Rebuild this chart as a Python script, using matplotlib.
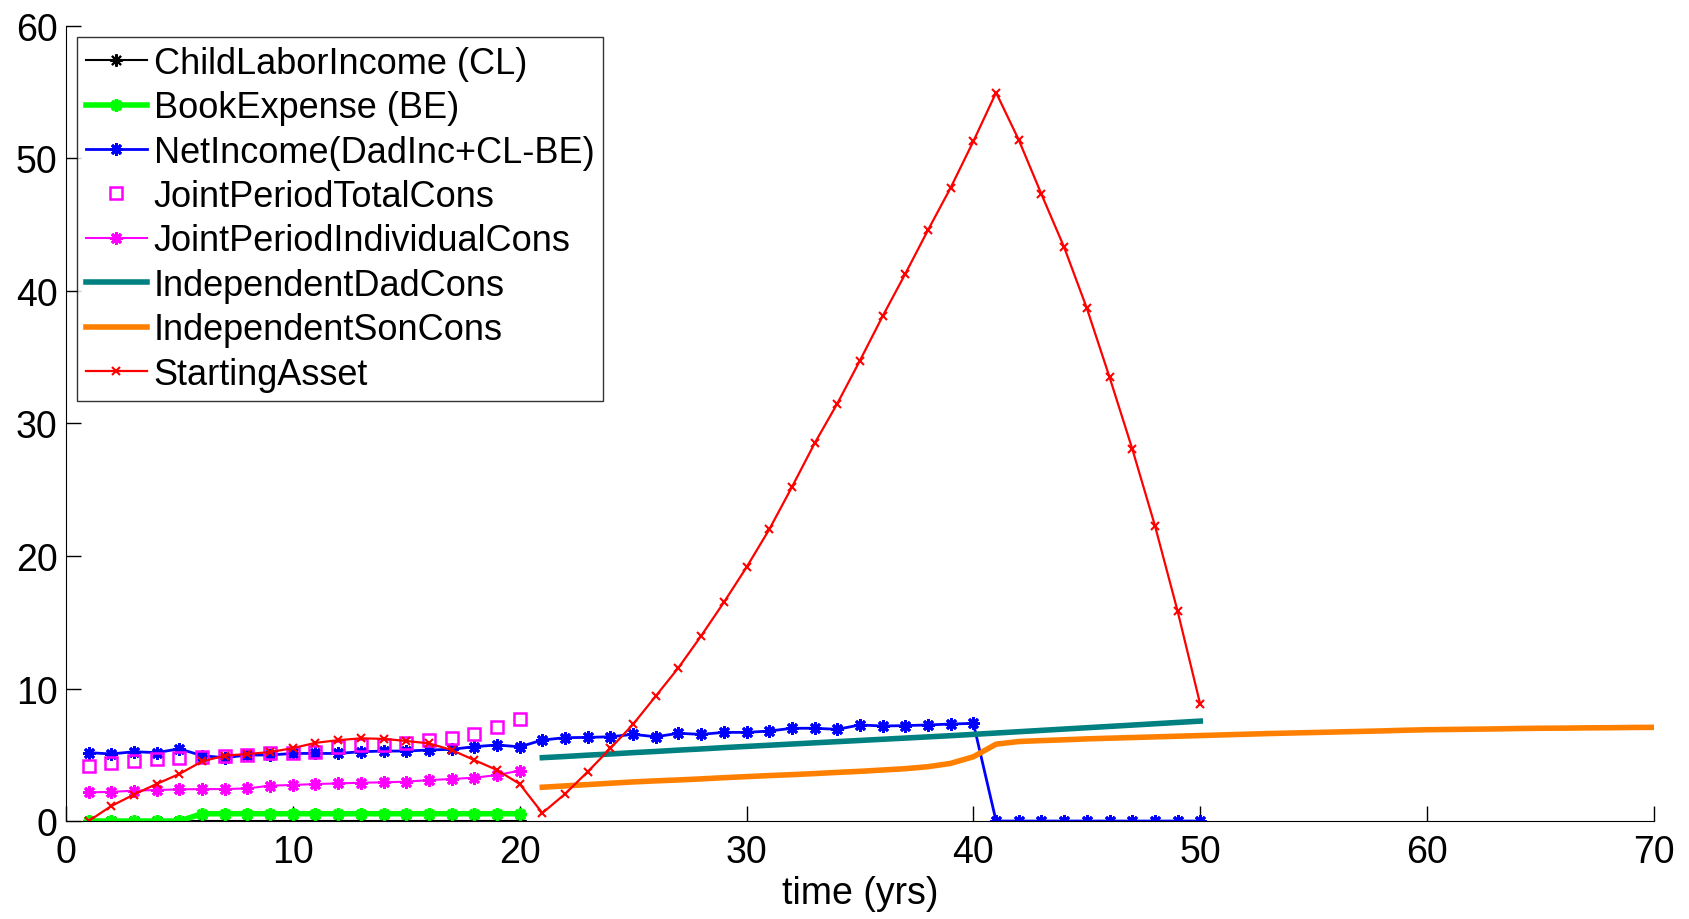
import matplotlib
matplotlib.use("Agg")
import matplotlib.pyplot as plt

plt.rcParams['font.family'] = ['Liberation Sans', 'DejaVu Sans']

# joint period (years 1-20)
t_joint = list(range(1, 21))
child_labor = [0] * 20
book_expense = [0, 0, 0, 0, 0, 0.55, 0.55, 0.55, 0.55, 0.55,
                0.55, 0.55, 0.55, 0.55, 0.55, 0.55, 0.55, 0.55, 0.55, 0.55]
joint_total = [4.15, 4.35, 4.53, 4.65, 4.78, 4.86, 4.93, 4.98, 5.1, 5.16,
               5.23, 5.6, 5.74, 5.74, 5.86, 6.1, 6.29, 6.57, 7.07, 7.7]
joint_indiv = [2.16, 2.2, 2.29, 2.34, 2.39, 2.41, 2.41, 2.46, 2.67, 2.72,
               2.79, 2.84, 2.89, 2.92, 2.97, 3.09, 3.17, 3.27, 3.47, 3.8]

# dad's life (years 1-50)
t_dad = list(range(1, 51))
net_income = [5.16, 5.06, 5.23, 5.16, 5.45, 4.93, 4.78, 4.98, 4.98, 5.1,
              5.1, 5.1, 5.23, 5.28, 5.28, 5.36, 5.41, 5.61, 5.74, 5.6,
              6.11, 6.29, 6.31, 6.36, 6.54, 6.36, 6.62, 6.54, 6.69, 6.69,
              6.79, 7.0, 7.0, 6.92, 7.25, 7.17, 7.2, 7.25, 7.32, 7.37,
              0, 0, 0, 0, 0, 0, 0, 0, 0, 0]
starting_asset = [0, 1.13, 2.0, 2.8, 3.55, 4.5, 4.93, 5.06, 5.2, 5.5,
                  5.9, 6.1, 6.24, 6.2, 6.04, 5.86, 5.36, 4.6, 3.85, 2.8,
                  0.6, 2.04, 3.72, 5.48, 7.3, 9.43, 11.57, 13.97, 16.5, 19.15,
                  22.0, 25.2, 28.5, 31.5, 34.75, 38.1, 41.3, 44.6, 47.8, 51.3,
                  54.97, 51.4, 47.3, 43.3, 38.7, 33.5, 28.1, 22.3, 15.85, 8.8]

# independent period
t_dad_ind = list(range(21, 51))
dad_cons = [4.78, 4.87, 4.97, 5.06, 5.16, 5.25, 5.35, 5.44, 5.54, 5.63,
            5.72, 5.81, 5.9, 5.99, 6.08, 6.17, 6.26, 6.35, 6.44, 6.54,
            6.64, 6.74, 6.84, 6.94, 7.04, 7.14, 7.24, 7.34, 7.44, 7.54]
t_son_ind = list(range(21, 71))
son_cons = [2.55, 2.65, 2.75, 2.85, 2.95, 3.03, 3.1, 3.18, 3.27, 3.35,
            3.43, 3.5, 3.58, 3.67, 3.75, 3.85, 3.95, 4.1, 4.35, 4.85,
            5.8, 6.0, 6.07, 6.13, 6.2, 6.25, 6.3, 6.35, 6.4, 6.45,
            6.5, 6.55, 6.6, 6.64, 6.68, 6.72, 6.76, 6.8, 6.85, 6.89,
            6.91, 6.93, 6.95, 6.98, 7.0, 7.01, 7.03, 7.04, 7.06, 7.07]

star = (8, 2, 0)

fig = plt.figure(figsize=(16.9, 9.2), dpi=100)
ax = fig.add_axes([0.039, 0.1065, 0.9397, 0.8642])

ax.plot(t_joint, child_labor, color='black', lw=1.5, marker=star, ms=9, mew=1.5,
        label='ChildLaborIncome (CL)')
ax.plot(t_joint, book_expense, color='#00ff00', lw=4, marker=star, ms=9, mew=2.5,
        label='BookExpense (BE)')
ax.plot(t_dad, net_income, color='#0000ff', lw=2, marker=star, ms=9, mew=2,
        label='NetIncome(DadInc+CL-BE)')
ax.plot(t_joint, joint_total, ls='none', marker='s', ms=8, mfc='none',
        mec='#ff00ff', mew=1.8, label='JointPeriodTotalCons')
ax.plot(t_joint, joint_indiv, color='#ff00ff', lw=1.5, marker=star, ms=9, mew=2,
        label='JointPeriodIndividualCons')
ax.plot(t_dad_ind, dad_cons, color='#008080', lw=4, label='IndependentDadCons')
ax.plot(t_son_ind, son_cons, color='#ff8000', lw=4, label='IndependentSonCons')
ax.plot(t_dad, starting_asset, color='#ff0000', lw=1.6, marker='x', ms=6, mew=1.5,
        label='StartingAsset')

ax.set_xlim(0, 70)
ax.set_ylim(0, 60)
ax.set_xticks(range(0, 71, 10))
ax.set_yticks(range(0, 61, 10))
ax.spines['top'].set_visible(False)
ax.spines['right'].set_visible(False)
ax.tick_params(direction='in', length=11, width=1, labelsize=27)
ax.tick_params(axis='x', pad=9)
ax.tick_params(axis='y', pad=6)
ax.set_xlabel('time (yrs)', fontsize=27, labelpad=4)

leg = ax.legend(loc='upper left', fontsize=26, frameon=True, fancybox=False,
                edgecolor='black', handlelength=1.7, handletextpad=0.18,
                labelspacing=0.26, borderaxespad=0.3, borderpad=0.25)
leg.get_frame().set_linewidth(1)

fig.savefig('out.png', dpi=100)
